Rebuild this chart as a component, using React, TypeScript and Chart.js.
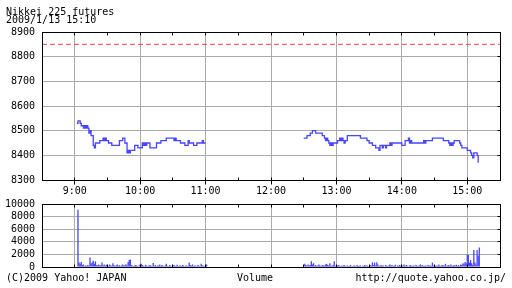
import React, { useEffect, useRef } from "react";
import { Chart, registerables } from "chart.js";

Chart.register(...registerables);

// ---- texts ----
const TITLE = "Nikkei 225 futures";
const TIMESTAMP = "2009/1/13 15:10";
const COPYRIGHT = "(C)2009 Yahoo! JAPAN";
const VOLUME_LABEL = "Volume";
const SOURCE_URL = "http://quote.yahoo.co.jp/";

// ---- axes (minutes since midnight) ----
const AXIS_START = 8 * 60 + 30;
const AXIS_END = 15 * 60 + 30;
const X_TICK_VALUES = [510, 540, 570, 600, 630, 660, 690, 720, 750, 780, 810, 840, 870, 900, 930];
const MORNING_START = 9 * 60;
const AFTERNOON_START = 12 * 60 + 30;
const VOLUME_OFFSET = 1; // bar sits at the end of its minute

const PRICE_MIN = 8300;
const PRICE_MAX = 8900;
const PRICE_STEP = 100;
const REFERENCE_LEVEL = 8850;

const VOLUME_MIN = 0;
const VOLUME_MAX = 10000;
const VOLUME_STEP = 2000;

// ---- data: one value per minute ----
const morningPrices: (number | null)[] = [
  null, null, 8530, 8540, 8540, 8530, 8520, 8520, 8510, 8520,
  8510, 8520, 8510, 8490, 8500, 8480, 8480, 8440, 8430, 8450,
  8450, 8450, 8450, 8460, 8460, 8460, 8470, 8460, 8470, 8460,
  8460, 8450, 8450, 8450, 8440, 8440, 8440, 8440, 8440, 8440,
  8440, 8460, 8460, 8460, 8470, 8470, 8450, 8450, 8410, 8420,
  8410, 8420, 8420, 8420, 8420, 8440, 8440, 8440, 8430, 8430,
  8430, 8430, 8450, 8440, 8450, 8440, 8450, 8450, 8450, 8430,
  8430, 8430, 8430, 8430, 8430, 8450, 8450, 8450, 8450, 8460,
  8460, 8460, 8460, 8460, 8470, 8470, 8470, 8470, 8470, 8470,
  8470, 8460, 8470, 8460, 8460, 8460, 8460, 8450, 8450, 8450,
  8450, 8440, 8440, 8440, 8460, 8450, 8450, 8450, 8450, 8440,
  8440, 8440, 8450, 8450, 8450, 8450, 8450, 8460, 8450, 8450,
  8450,
];

const afternoonPrices: number[] = [
  8470, 8470, 8470, 8480, 8480, 8480, 8490, 8490, 8500, 8500,
  8500, 8490, 8490, 8490, 8490, 8490, 8490, 8480, 8480, 8470,
  8460, 8470, 8460, 8450, 8440, 8450, 8440, 8450, 8450, 8450,
  8450, 8460, 8460, 8470, 8460, 8470, 8460, 8450, 8460, 8460,
  8480, 8480, 8480, 8480, 8480, 8480, 8480, 8480, 8480, 8480,
  8480, 8480, 8470, 8470, 8470, 8470, 8470, 8470, 8460, 8460,
  8450, 8450, 8450, 8440, 8440, 8440, 8430, 8430, 8430, 8420,
  8440, 8440, 8430, 8440, 8440, 8430, 8440, 8440, 8440, 8450,
  8440, 8450, 8450, 8450, 8450, 8450, 8450, 8450, 8450, 8450,
  8440, 8440, 8440, 8460, 8460, 8460, 8470, 8450, 8460, 8450,
  8450, 8450, 8450, 8450, 8450, 8450, 8450, 8450, 8450, 8450,
  8460, 8450, 8460, 8460, 8460, 8460, 8460, 8460, 8470, 8470,
  8470, 8470, 8470, 8470, 8470, 8470, 8470, 8470, 8460, 8460,
  8460, 8460, 8460, 8450, 8440, 8450, 8440, 8450, 8460, 8460,
  8460, 8460, 8460, 8450, 8440, 8430, 8430, 8430, 8430, 8430,
  8420, 8420, 8420, 8410, 8400, 8390, 8410, 8410, 8410, 8400,
  8370,
];

const morningVolumes: number[] = [
  0, 0, 9100, 700, 500, 800, 300, 400, 150, 250,
  200, 300, 200, 1500, 600, 700, 1000, 500, 900, 300,
  250, 400, 200, 300, 700, 250, 400, 200, 350, 300,
  150, 400, 250, 200, 600, 300, 150, 250, 400, 200,
  300, 150, 250, 400, 200, 300, 450, 250, 800, 1100,
  1200, 300, 200, 150, 250, 300, 200, 100, 250, 400,
  500, 300, 200, 150, 350, 200, 100, 250, 300, 200,
  150, 650, 200, 300, 150, 250, 200, 400, 150, 300,
  200, 100, 250, 500, 200, 150, 300, 200, 100, 250,
  300, 150, 200, 350, 100, 200, 250, 150, 300, 200,
  100, 250, 200, 150, 700, 300, 200, 400, 150, 250,
  200, 100, 300, 200, 150, 500, 250, 200, 150, 300,
  400,
];

const afternoonVolumes: number[] = [
  500, 300, 200, 400, 250, 300, 900, 400, 600, 200,
  300, 150, 250, 400, 200, 150, 300, 250, 200, 400,
  500, 300, 200, 600, 250, 150, 300, 900, 200, 150,
  250, 300, 200, 100, 250, 150, 300, 200, 100, 250,
  150, 200, 300, 100, 150, 250, 200, 100, 300, 150,
  200, 250, 100, 200, 150, 300, 200, 250, 150, 100,
  300, 200, 750, 300, 700, 250, 750, 400, 200, 150,
  300, 200, 250, 100, 300, 200, 150, 250, 400, 200,
  300, 150, 200, 350, 100, 250, 200, 300, 150, 250,
  200, 400, 150, 300, 200, 100, 250, 300, 150, 200,
  250, 100, 300, 200, 150, 250, 400, 200, 300, 150,
  200, 250, 100, 300, 200, 250, 150, 700, 200, 300,
  150, 250, 200, 400, 150, 200, 300, 250, 200, 500,
  150, 250, 300, 200, 400, 150, 250, 300, 200, 350,
  200, 300, 150, 400, 300, 600, 500, 800, 600, 2000,
  1900, 700, 1100, 600, 300, 2700, 700, 400, 2700, 1800,
  3100,
];

// ---- styles ----
const FONT_FAMILY = "'DejaVu Sans Mono', monospace";
const FONT = { family: FONT_FAMILY, size: 10 };
const GRID_COLOR = "#aaaaaa";
const SERIES_COLOR = "#4646ff";
const REFERENCE_COLOR = "#ff4040";

const toPoints = (start: number, values: (number | null)[], shift = 0) =>
  values.map((v, i) => ({ x: start + i + shift, y: v }));

const fmtTime = (v: number) => `${Math.floor(v / 60)}:${String(v % 60).padStart(2, "0")}`;

const align = (p: number) => Math.round(p - 0.5) + 0.5;

const framePlugin = (hourTickOut: number) => ({
  id: "frameTicks",
  afterDatasetsDraw(chart: any) {
    const { ctx, chartArea: a, scales } = chart;
    const xs = scales.x;
    const ys = scales.y;
    const L = align(a.left), R = align(a.right), T = align(a.top), B = align(a.bottom);
    ctx.save();
    ctx.strokeStyle = "#000";
    ctx.lineWidth = 1;
    ctx.beginPath();
    ys.ticks.forEach((t: any) => {
      const y = align(ys.getPixelForValue(t.value));
      if (y <= T || y >= B) return;
      ctx.moveTo(R - 3, y);
      ctx.lineTo(R, y);
    });
    xs.ticks.forEach((t: any) => {
      const x = align(xs.getPixelForValue(t.value));
      if (x <= L || x >= R) return;
      ctx.moveTo(x, T);
      ctx.lineTo(x, T + 3);
      ctx.moveTo(x, B - 3);
      ctx.lineTo(x, B + (t.value % 60 === 0 ? hourTickOut : 0));
    });
    ctx.stroke();
    ctx.strokeRect(L, T, R - L, B - T);
    ctx.restore();
  },
});

const xScale = (showLabels: boolean, height: number) => ({
  type: "linear",
  min: AXIS_START,
  max: AXIS_END,
  offset: false,
  afterBuildTicks: (s: any) => {
    s.ticks = X_TICK_VALUES.map((value) => ({ value }));
  },
  afterFit: (s: any) => {
    s.height = height;
  },
  ticks: {
    display: showLabels,
    autoSkip: false,
    maxRotation: 0,
    minRotation: 0,
    padding: 5,
    font: FONT,
    color: "#000",
    callback: (v: number) => (v % 60 === 0 ? fmtTime(v) : ""),
  },
  grid: {
    offset: false,
    drawTicks: false,
    lineWidth: 1,
    color: (c: any) => (c.tick && c.tick.value % 60 === 0 ? GRID_COLOR : "rgba(0,0,0,0)"),
  },
  border: { display: false },
});

const yScale = (min: number, max: number, step: number) => ({
  type: "linear",
  min,
  max,
  afterFit: (s: any) => {
    s.width = 42;
  },
  ticks: {
    stepSize: step,
    autoSkip: false,
    padding: 7,
    font: FONT,
    color: "#000",
    callback: (v: number) => String(v),
  },
  grid: { drawTicks: false, color: GRID_COLOR, lineWidth: 1 },
  border: { display: false },
});

export default function App() {
  const priceRef = useRef<HTMLCanvasElement>(null);
  const volumeRef = useRef<HTMLCanvasElement>(null);

  useEffect(() => {
    const price = new Chart(priceRef.current as HTMLCanvasElement, {
      type: "line",
      data: {
        datasets: [
          {
            data: [
              { x: AXIS_START, y: REFERENCE_LEVEL },
              { x: AXIS_END, y: REFERENCE_LEVEL },
            ],
            borderColor: REFERENCE_COLOR,
            borderWidth: 1,
            borderDash: [5, 3],
            pointRadius: 0,
          },
          {
            data: toPoints(MORNING_START, morningPrices),
            borderColor: SERIES_COLOR,
            borderWidth: 1.3,
            stepped: true,
            pointRadius: 0,
            spanGaps: false,
          },
          {
            data: toPoints(AFTERNOON_START, afternoonPrices),
            borderColor: SERIES_COLOR,
            borderWidth: 1.3,
            stepped: true,
            pointRadius: 0,
          },
        ],
      } as any,
      options: {
        animation: false,
        responsive: false,
        events: [],
        layout: { padding: { left: 0, right: 12, top: 32, bottom: 88 } },
        plugins: { legend: { display: false }, tooltip: { enabled: false } },
        scales: {
          x: xScale(true, 20),
          y: yScale(PRICE_MIN, PRICE_MAX, PRICE_STEP),
        } as any,
      },
      plugins: [framePlugin(4)],
    });

    const volumePoints = [
      ...toPoints(MORNING_START, morningVolumes, VOLUME_OFFSET),
      ...toPoints(AFTERNOON_START, afternoonVolumes, VOLUME_OFFSET),
    ];

    const volume = new Chart(volumeRef.current as HTMLCanvasElement, {
      type: "bar",
      data: {
        datasets: [
          {
            data: volumePoints,
            backgroundColor: SERIES_COLOR,
            borderWidth: 0,
            barThickness: 1.3,
            inflateAmount: 0,
          },
        ],
      } as any,
      options: {
        animation: false,
        responsive: false,
        events: [],
        layout: { padding: { left: 0, right: 12, top: 204, bottom: 21 } },
        plugins: { legend: { display: false }, tooltip: { enabled: false } },
        scales: {
          x: xScale(false, 0),
          y: yScale(VOLUME_MIN, VOLUME_MAX, VOLUME_STEP),
        } as any,
      },
      plugins: [framePlugin(0)],
    });

    return () => {
      price.destroy();
      volume.destroy();
    };
  }, []);

  const text: React.CSSProperties = { position: "absolute", whiteSpace: "pre" };

  return (
    <div
      style={{
        position: "fixed",
        left: 0,
        top: 0,
        width: 512,
        height: 288,
        background: "#fff",
        overflow: "hidden",
        fontFamily: FONT_FAMILY,
        fontSize: 10,
        lineHeight: "10px",
        color: "#000",
      }}
    >
      <canvas ref={priceRef} width={512} height={288} style={{ position: "absolute", left: 0, top: 0 }} />
      <canvas ref={volumeRef} width={512} height={288} style={{ position: "absolute", left: 0, top: 0 }} />
      <div style={{ ...text, left: 6, top: 7 }}>{TITLE}</div>
      <div style={{ ...text, left: 6, top: 15 }}>{TIMESTAMP}</div>
      <div style={{ ...text, left: 6, top: 273 }}>{COPYRIGHT}</div>
      <div style={{ ...text, left: 237, top: 273 }}>{VOLUME_LABEL}</div>
      <div style={{ ...text, right: 6, top: 273 }}>{SOURCE_URL}</div>
    </div>
  );
}
